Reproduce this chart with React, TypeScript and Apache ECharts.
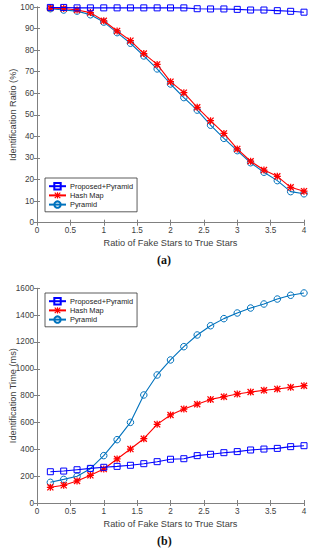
import React, { useEffect, useRef } from "react";
import * as echarts from "echarts";

const ratios = [0.2, 0.4, 0.6, 0.8, 1.0, 1.2, 1.4, 1.6, 1.8, 2.0, 2.2, 2.4, 2.6, 2.8, 3.0, 3.2, 3.4, 3.6, 3.8, 4.0];

// (a) Identification Ratio (%)
const ratioProposed = [99.8, 99.8, 99.6, 99.6, 99.6, 99.6, 99.6, 99.6, 99.6, 99.6, 99.6, 99.2, 99.1, 99.1, 98.9, 98.6, 98.6, 98.3, 98.0, 97.6];
const ratioHashMap = [99.5, 99.3, 98.6, 97.4, 93.6, 88.9, 84.4, 78.4, 73.4, 65.4, 60.3, 53.5, 47.3, 41.4, 34.2, 28.5, 24.4, 21.5, 16.4, 14.6];
const ratioPyramid = [99.2, 98.6, 98.1, 96.4, 93.0, 88.1, 83.2, 77.3, 71.3, 64.3, 58.0, 52.2, 45.2, 39.1, 33.4, 27.8, 23.4, 19.5, 14.4, 13.4];

// (b) Identification Time (ms)
const timeProposed = [233, 238, 248, 258, 266, 273, 281, 293, 308, 326, 330, 353, 363, 375, 383, 395, 402, 407, 420, 427];
const timeHashMap = [117, 132, 164, 206, 253, 328, 402, 479, 586, 656, 700, 736, 772, 792, 812, 827, 840, 850, 862, 874];
const timePyramid = [154, 176, 199, 256, 353, 472, 601, 805, 954, 1066, 1165, 1252, 1321, 1374, 1416, 1453, 1483, 1520, 1548, 1565];

const seriesNames = ["Proposed+Pyramid", "Hash Map", "Pyramid"];
const xTicks = { min: 0, max: 4, interval: 0.5 };
const yTicksA = { min: 0, max: 100, interval: 10 };
const yTicksB = { min: 0, max: 1600, interval: 200 };
const xTitle = "Ratio of Fake Stars to True Stars";
const yTitleA = "Identification Ratio (%)";
const yTitleB = "Identification Time (ms)";
const panelLabels = ["(a)", "(b)"];

const ASTERISK =
  "path://M4.1,0L5.9,0L5.9,10L4.1,10Z M0,4.1L10,4.1L10,5.9L0,5.9Z M0,1.3L1.3,0L10,8.7L8.7,10Z M8.7,0L10,1.3L1.3,10L0,8.7Z";

const colors = ["#0000FF", "#FF0000", "#0072BD"];
const symbols = ["rect", ASTERISK, "circle"];
const sizes = [6, 7, 6.5];
const fills = ["rgba(255,255,255,0)", "#FF0000", "rgba(255,255,255,0)"];
const borders = [1, 0, 1];

const FONT = "Liberation Sans, Arial, Helvetica, sans-serif";
const AXIS_COLOR = "#808080";
const LABEL_COLOR = "#404040";

function pairs(ys: number[]) {
  return ratios.map((x, i) => [x, ys[i]]);
}

export default function App() {
  const ref = useRef<HTMLDivElement>(null);

  useEffect(() => {
    if (!ref.current) return;
    const chart = echarts.init(ref.current, undefined, { renderer: "svg" });

    const baseAxisLine = { show: true, lineStyle: { color: AXIS_COLOR, width: 1 } };
    const baseTick = { show: true, inside: true, length: 3, lineStyle: { color: AXIS_COLOR } };
    const plainNum = (v: number) => String(v);

    const xAxisMain = (gridIndex: number) => ({
      type: "value",
      gridIndex,
      position: "bottom",
      ...xTicks,
      name: xTitle,
      nameLocation: "middle",
      nameGap: 16,
      nameMoveOverlap: false,
      nameTextStyle: { fontFamily: FONT, fontSize: 9.2, color: LABEL_COLOR },
      axisLine: baseAxisLine,
      axisTick: baseTick,
      splitLine: { show: false },
      axisLabel: { fontFamily: FONT, fontSize: 8.2, color: LABEL_COLOR, margin: 4, formatter: plainNum },
    });
    const xAxisTop = (gridIndex: number) => ({
      type: "value",
      gridIndex,
      position: "top",
      ...xTicks,
      axisLine: baseAxisLine,
      axisTick: baseTick,
      splitLine: { show: false },
      axisLabel: { show: false },
    });
    const yAxisMain = (gridIndex: number, t: any, title: string) => ({
      type: "value",
      gridIndex,
      position: "left",
      ...t,
      name: title,
      nameLocation: "middle",
      nameGap: 20,
      nameMoveOverlap: false,
      nameTextStyle: { fontFamily: FONT, fontSize: 9.2, color: LABEL_COLOR },
      axisLine: baseAxisLine,
      axisTick: baseTick,
      splitLine: { show: false },
      axisLabel: { fontFamily: FONT, fontSize: 8.2, color: LABEL_COLOR, margin: 3, formatter: plainNum },
    });
    const yAxisRight = (gridIndex: number, t: any) => ({
      type: "value",
      gridIndex,
      position: "right",
      ...t,
      axisLine: baseAxisLine,
      axisTick: baseTick,
      splitLine: { show: false },
      axisLabel: { show: false },
    });

    const mkSeries = (idx: number, ys: number[], xi: number, yi: number, suffix: string) => ({
      id: seriesNames[idx] + suffix,
      name: seriesNames[idx],
      type: "line",
      xAxisIndex: xi,
      yAxisIndex: yi,
      data: pairs(ys),
      symbol: symbols[idx],
      symbolSize: sizes[idx],
      showAllSymbol: true,
      color: colors[idx],
      lineStyle: { color: colors[idx], width: 1.1 },
      itemStyle: { color: fills[idx], borderColor: colors[idx], borderWidth: borders[idx] },
      z: 3 - idx,
    });

    const legendBase = {
      orient: "vertical",
      left: 45,
      padding: [4, 4, 3, 3],
      itemGap: 1.5,
      itemWidth: 17,
      itemHeight: 8,
      borderColor: "#333",
      borderWidth: 0.8,
      backgroundColor: "#fff",
      textStyle: { fontFamily: FONT, fontSize: 7.4, color: "#222", padding: [0, 0, 0, -1] },
      data: seriesNames,
    };

    const gridBase = { left: 37, right: 5, containLabel: false, outerBoundsMode: "none" };

    chart.setOption({
      animation: false,
      backgroundColor: "#fff",
      grid: [
        { ...gridBase, top: 7, height: 215.7 },
        { ...gridBase, top: 288.3, height: 214.7 },
      ],
      xAxis: [xAxisMain(0), xAxisTop(0), xAxisMain(1), xAxisTop(1)],
      yAxis: [
        yAxisMain(0, yTicksA, yTitleA),
        yAxisRight(0, yTicksA),
        yAxisMain(1, yTicksB, yTitleB),
        yAxisRight(1, yTicksB),
      ],
      legend: [
        { ...legendBase, top: 178 },
        { ...legendBase, top: 293 },
      ],
      series: [
        mkSeries(0, ratioProposed, 0, 0, "-a"),
        mkSeries(1, ratioHashMap, 0, 0, "-a"),
        mkSeries(2, ratioPyramid, 0, 0, "-a"),
        mkSeries(0, timeProposed, 2, 2, "-b"),
        mkSeries(1, timeHashMap, 2, 2, "-b"),
        mkSeries(2, timePyramid, 2, 2, "-b"),
      ],
      graphic: [
        {
          type: "text",
          left: 157,
          top: 254,
          style: { text: panelLabels[0], font: "bold 12px 'Liberation Serif', 'Times New Roman', serif", fill: "#111" },
        },
        {
          type: "text",
          left: 157,
          top: 535,
          style: { text: panelLabels[1], font: "bold 12px 'Liberation Serif', 'Times New Roman', serif", fill: "#111" },
        },
      ],
    });

    return () => chart.dispose();
  }, []);

  return (
    <div
      ref={ref}
      style={{ position: "fixed", left: 0, top: 0, width: 309, height: 550, background: "#fff" }}
    />
  );
}
